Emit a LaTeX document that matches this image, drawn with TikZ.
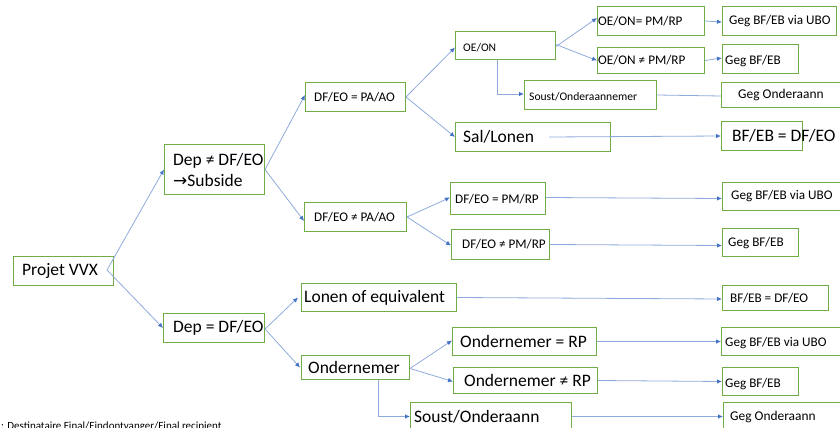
\documentclass[tikz,border=0pt]{standalone}
\usepackage{fontspec}
\setmainfont{Carlito}
\newfontfamily\djv{DejaVu Sans}
\usetikzlibrary{arrows.meta}
\definecolor{boxgreen}{HTML}{70AD47}
\definecolor{linblue}{HTML}{8FAADC}
\definecolor{tipblue}{HTML}{4472C4}
\tikzset{
  box/.style={draw=boxgreen, line width=1pt, anchor=north west, inner sep=0pt, fill=white},
  txt/.style={anchor=west, inner sep=0pt, text=black},
  big/.style={font=\fontsize{17.5}{21}\selectfont},
  sml/.style={font=\fontsize{13.2}{16}\selectfont},
  tny/.style={font=\fontsize{11.6}{14}\selectfont},
  arr/.style={draw=linblue, line width=0.8pt, -{Latex[length=5pt,width=4.5pt,color=tipblue]}},
  lin/.style={draw=linblue, line width=0.8pt}
}
% \bx{name}{x1}{y1}{x2}{y2}
\newcommand{\bx}[5]{\node[box, minimum width={#4-#2}, minimum height={#5-#3}] (#1) at (#2,#3) {};}
\begin{document}
\begin{tikzpicture}[x=1pt,y=-1pt]
\useasboundingbox (0,0) rectangle (840,428);
\clip (0,0) rectangle (840,428);
% boxes
\bx{pv}{13}{256}{113}{285}
\bx{depn}{164}{144}{264}{194}
\bx{depe}{163}{313}{264}{342}
\bx{pa1}{305}{82}{405}{111}
\bx{pa2}{304}{202}{406}{231}
\bx{oeon}{455}{31}{555}{59}
\bx{oe1}{597}{6}{704}{35}
\bx{oe2}{597}{47}{704}{73}
\bx{so1}{524}{80}{656}{109}
\bx{sal}{455}{122}{610}{151}
\bx{g1}{722}{6}{836}{35}
\bx{g2}{722}{44}{798}{73}
\bx{g3}{721}{82}{845}{107}
\bx{bf1}{721}{121}{802}{150}
\bx{pm1}{450}{182}{545}{214}
\bx{pm2}{451}{229}{549}{259}
\bx{g4}{722}{182}{845}{210}
\bx{g5}{722}{228}{798}{256}
\bx{lon}{301}{283}{456}{311}
\bx{bf2}{722}{285}{828}{310}
\bx{ond}{301}{355}{409}{379}
\bx{o1}{452}{327}{596}{355}
\bx{o2}{453}{367}{597}{393}
\bx{g6}{721}{327}{845}{355}
\bx{g7}{722}{367}{798}{395}
\bx{so2}{410}{402}{571}{430}
\bx{g8}{723}{402}{845}{430}
% texts
\node[txt,big] at ([xshift=9]pv.west) {Projet VVX};
\node[txt,big,align=left] at ([xshift=9]depn.west) {Dep ≠ DF/EO\\{\djv\fontsize{17}{21}\selectfont →}Subside};
\node[txt,big] at ([xshift=10]depe.west) {Dep = DF/EO};
\node[txt,sml] at ([xshift=9]pa1.west) {DF/EO = PA/AO};
\node[txt,sml] at ([xshift=10]pa2.west) {DF/EO ≠ PA/AO};
\node[txt,tny] at ([xshift=8,yshift=-2]oeon.west) {OE/ON};
\node[txt,sml] at ([xshift=1]oe1.west) {OE/ON= PM/RP};
\node[txt,sml] at ([xshift=1]oe2.west) {OE/ON ≠ PM/RP};
\node[txt,tny] at ([xshift=5,yshift=-2]so1.west) {Soust/Onderaannemer};
\node[txt,big] at ([xshift=8]sal.west) {Sal/Lonen};
\node[txt,sml] at ([xshift=7]g1.west) {Geg BF/EB via UBO};
\node[txt,sml] at ([xshift=3,yshift=-2]g2.west) {Geg BF/EB};
\node[txt,font=\fontsize{13.4}{16}\selectfont] at ([xshift=17]g3.west) {Geg Onderaann};
\node[txt,big] at ([xshift=11]bf1.west) {BF/EB = DF/EO};
\node[txt,sml] at ([xshift=5,yshift=-1]pm1.west) {DF/EO = PM/RP};
\node[txt,sml] at ([xshift=11]pm2.west) {DF/EO ≠ PM/RP};
\node[txt,sml] at ([xshift=9]g4.west) {Geg BF/EB via UBO};
\node[txt,sml] at ([xshift=6,yshift=-1]g5.west) {Geg BF/EB};
\node[txt,big] at ([xshift=3]lon.west) {Lonen of equivalent};
\node[txt,sml] at ([xshift=8]bf2.west) {BF/EB = DF/EO};
\node[txt,big] at ([xshift=7]ond.west) {Ondernemer};
\node[txt,big] at ([xshift=8]o1.west) {Ondernemer = RP};
\node[txt,big] at ([xshift=11]o2.west) {Ondernemer ≠ RP};
\node[txt,sml] at ([xshift=4,yshift=-2]g6.west) {Geg BF/EB via UBO};
\node[txt,sml] at ([xshift=3,yshift=-3]g7.west) {Geg BF/EB};
\node[txt,big] at ([xshift=4]so2.west) {Soust/Onderaann};
\node[txt,font=\fontsize{13.4}{16}\selectfont] at ([xshift=7]g8.west) {Geg Onderaann};
\node[anchor=base west, inner sep=0pt, font=\fontsize{11}{13}\selectfont] (note) at (1,429.5) {: Destinataire Final/Eindontvanger/Final recipient};
% connectors
\draw[arr] ([xshift=-7,yshift=1]pv.east) -- (depn.west);
\draw[arr] ([xshift=-7,yshift=1]pv.east) -- (depe.west);
\draw[arr] (depn.east) -- ([yshift=2]pa1.west);
\draw[arr] (depn.east) -- ([yshift=-4]pa2.west);
\draw[arr] (pa1.east) -- ([yshift=-2]oeon.west);
\draw[arr] (pa1.east) -- (sal.west);
\draw[arr] ([yshift=-1]oeon.east) -- ([yshift=3]oe1.west);
\draw[arr] ([yshift=1]oeon.east) -- (oe2.west);
\draw[arr] ([xshift=-8]oeon.south) |- ([yshift=1]so1.west);
\draw[arr] (oe1.east) -- ([yshift=-1]g1.west);
\draw[arr] (oe2.east) -- ([yshift=1]g2.west);
\draw[lin] (so1.east) -- ([yshift=-1]g3.west);
\draw[arr] ([xshift=-62]sal.east) -- (bf1.west);
\draw[arr] (pa2.east) -- ([yshift=1]pm1.west);
\draw[arr] (pa2.east) -- ([yshift=-1]pm2.west);
\draw[arr] ([yshift=1]pm1.east) -- ([yshift=-2]g4.west);
\draw[arr] (pm2.east) -- ([yshift=-3]g5.west);
\draw[arr] ([yshift=-1]depe.east) -- ([xshift=-3]lon.west);
\draw[arr] ([yshift=-1]depe.east) -- ([xshift=-1]ond.west);
\draw[arr] (lon.east) -- ([yshift=-1]bf2.west);
\draw[arr] ([yshift=-1]ond.east) -- ([yshift=1]o1.west);
\draw[arr] ([yshift=-1]ond.east) -- ([yshift=-1]o2.west);
\draw[arr] ([xshift=23]ond.south) |- (so2.west);
\draw[arr] (o1.east) -- (g6.west);
\draw[arr] (o2.east) -- (g7.west);
\draw[arr] (so2.east) -- (g8.west);
\end{tikzpicture}
\end{document}
